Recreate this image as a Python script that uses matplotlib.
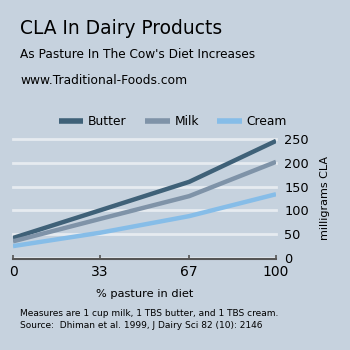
import numpy as np
import matplotlib
matplotlib.use('Agg')
import matplotlib.pyplot as plt

# data
pasture = [0, 33, 67, 100]
butter = [42, 100, 160, 246]
milk = [35, 82, 130, 202]
cream = [25, 53, 88, 134]
series_names = ['Butter', 'Milk', 'Cream']
yticks = [0, 50, 100, 150, 200, 250]

bg = '#c6d2de'
colors = ['#3f6178', '#7f93a8', '#86bde8']

plt.rcParams['font.family'] = ['DejaVu Sans']

fig = plt.figure(figsize=(3.5, 3.5), dpi=100, facecolor=bg)
ax = fig.add_axes([13/350, 1-258/350, (276-13)/350, (258-139)/350])
ax.set_facecolor(bg)

for vals, name, c in zip([butter, milk, cream], series_names, colors):
    ax.plot(pasture, vals, color=c, lw=3.2, label=name, solid_capstyle='butt', zorder=3)

ax.set_xlim(0, 100)
ax.set_ylim(0, 250)
ax.set_xticks(pasture)
ax.set_xticklabels([str(p) for p in pasture], fontsize=9.5)
ax.set_yticks(yticks)
ax.yaxis.tick_right()
ax.set_yticklabels([str(t) for t in yticks], fontsize=9.3)
ax.tick_params(axis='y', length=0, pad=6)
ax.tick_params(axis='x', direction='in', length=3, width=1.2, color='#555555', pad=4)
for t in yticks[1:]:
    ax.axhline(t, color='#e6ebf0', lw=2, zorder=1, clip_on=False)
ax.axhline(0, color='#e6ebf0', lw=2, zorder=1)
for s in ['top', 'right', 'left']:
    ax.spines[s].set_visible(False)
ax.spines['bottom'].set_color('#555555')
ax.spines['bottom'].set_linewidth(1.5)
ax.spines['bottom'].set_position(('outward', 1))

ax.yaxis.set_label_position('right')
ax.set_ylabel('milligrams CLA', fontsize=8, labelpad=8)
ax.set_xlabel('% pasture in diet', fontsize=8.2, labelpad=7)

leg = ax.legend(loc='lower center', bbox_to_anchor=(0.608, 1.0), ncol=3, frameon=False,
                fontsize=8.8, handlelength=2.0, columnspacing=1.5, handletextpad=0.4)
for h in leg.get_lines():
    h.set_linewidth(4)

fig.text(20/350, 1-29/350, 'CLA In Dairy Products', fontsize=13.4, va='center')
fig.text(20/350, 1-54/350, "As Pasture In The Cow's Diet Increases", fontsize=8.7, va='center')
fig.text(20/350, 1-81/350, 'www.Traditional-Foods.com', fontsize=8.8, va='center')
fig.text(20/350, 1-314/350, 'Measures are 1 cup milk, 1 TBS butter, and 1 TBS cream.',
         fontsize=6.5, va='center')
fig.text(20/350, 1-325/350, 'Source:  Dhiman et al. 1999, J Dairy Sci 82 (10): 2146',
         fontsize=6.5, va='center')

fig.savefig('out.png', dpi=100, facecolor=bg)
